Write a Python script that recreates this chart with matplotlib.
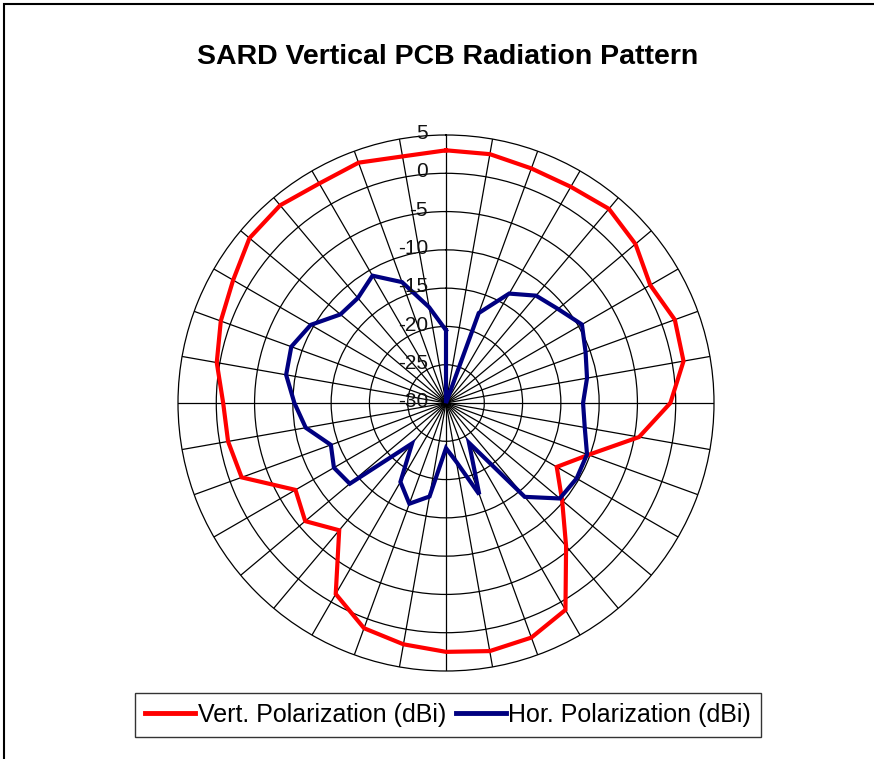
import numpy as np
import matplotlib
matplotlib.use("Agg")
import matplotlib.pyplot as plt
from matplotlib.patches import Rectangle

plt.rcParams['font.family'] = ['Liberation Sans', 'DejaVu Sans']

angles_deg = list(range(0, 360, 10))
vert_pol = [3.0, 3.0, 2.6, 2.6, 3.1, 2.3, 0.8, 1.8, 1.5, -0.7,
            -4.4, -10.2, -13.3, -10.2, -5.6, 1.2, 2.6, 2.9, 2.5, 2.0,
            1.3, -1.2, -8.3, -6.0, -7.3, -1.6, -1.1, -0.9, 0.4, 1.3,
            2.1, 3.5, 3.7, 3.1, 3.4, 2.7]
hor_pol = [-20.5, -30.0, -17.5, -13.5, -11.7, -10.9, -9.5, -10.6, -11.3, -12.1,
           -11.6, -10.4, -10.3, -10.6, -14.0, -24.0, -17.3, -22.2, -24.1, -17.6,
           -16.0, -18.1, -23.1, -13.6, -13.1, -14.0, -11.4, -10.2, -8.8, -8.5,
           -9.6, -12.0, -12.1, -10.8, -13.2, -17.3]
r_ticks = [5, 0, -5, -10, -15, -20, -25, -30]
series_names = ["Vert. Polarization (dBi)", "Hor. Polarization (dBi)"]
title = "SARD Vertical PCB Radiation Pattern"

W, H = 874, 759
fig = plt.figure(figsize=(W / 100, H / 100), dpi=100)
fig.patch.set_facecolor('white')

# outer chart frame
fig.patches.append(Rectangle((4 / W, -0.05), 1.1, 1 - 4 / H + 0.05, transform=fig.transFigure,
                             fill=False, edgecolor='black', linewidth=1.5, zorder=0))

cx, cy, R = 446, 403, 268
ax = fig.add_axes([(cx - R) / W, 1 - (cy + R) / H, 2 * R / W, 2 * R / H], projection='polar')
ax.set_theta_zero_location('N')
ax.set_theta_direction(-1)
ax.set_ylim(-30, 5)

theta = np.deg2rad(angles_deg + [angles_deg[0]])
ax.plot(theta, vert_pol + [vert_pol[0]], color='#ff0000', lw=3.0, solid_joinstyle='miter', zorder=5,
        label=series_names[0])
ax.plot(theta, hor_pol + [hor_pol[0]], color='#000080', lw=3.0, solid_joinstyle='miter', zorder=5,
        label=series_names[1])

ax.set_thetagrids(angles_deg, labels=[''] * len(angles_deg))
ax.set_rgrids([-25, -20, -15, -10, -5, 0], labels=[''] * 6)
ax.grid(True, color='black', lw=0.9, linestyle='-')
ax.spines['polar'].set_color('black')
ax.spines['polar'].set_linewidth(0.9)
ax.tick_params(pad=0, length=0)

for v in r_ticks:
    ax.annotate(str(v), xy=(0, v), xytext=(-13, 1), textcoords='offset points',
                ha='right', va='center', fontsize=15, color='#111111', zorder=6)

fig.text(448 / W, 1 - 64 / H, title, ha='center', va='baseline', fontsize=20.5, fontweight='bold')

leg = fig.legend(loc='center', bbox_to_anchor=(448 / W, 1 - 715 / H), ncol=2, fontsize=18,
                 frameon=True, fancybox=False, edgecolor='black', handlelength=2.0,
                 handletextpad=0.1, columnspacing=0.4, borderpad=0.4, borderaxespad=0)
leg.get_frame().set_linewidth(1.0)
for line in leg.get_lines():
    line.set_linewidth(3.5)

fig.savefig('out.png', dpi=100, facecolor='white')
